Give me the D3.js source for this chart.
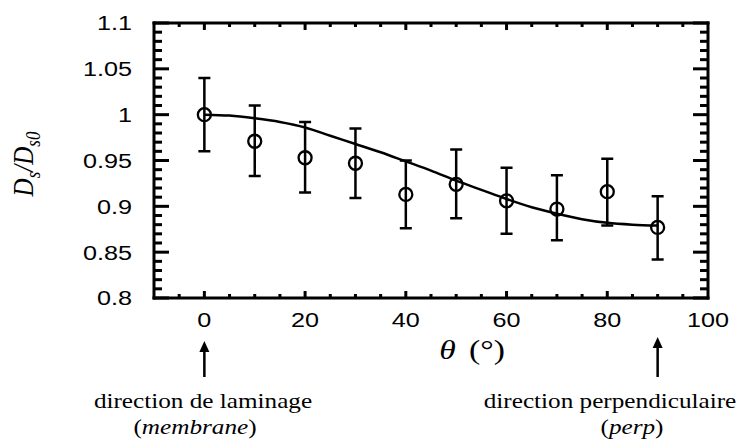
<!DOCTYPE html>
<html>
<head>
<meta charset="utf-8">
<script src="https://cdn.jsdelivr.net/npm/d3@7"></script>
<style>
  html, body { margin: 0; padding: 0; background: #fff; }
  svg { display: block; }
</style>
</head>
<body>
<svg id="chart" width="740" height="448" viewBox="0 0 740 448"></svg>
<script>
// ---- data ----
const angles = [0, 10, 20, 30, 40, 50, 60, 70, 80, 90];
const ratio  = [1.000, 0.971, 0.953, 0.947, 0.913, 0.924, 0.906, 0.897, 0.916, 0.877];
const errLow  = [0.960, 0.933, 0.915, 0.909, 0.876, 0.887, 0.870, 0.863, 0.879, 0.842];
const errHigh = [1.040, 1.010, 0.992, 0.985, 0.950, 0.962, 0.942, 0.934, 0.952, 0.911];
const fitAngles = [0, 5, 10, 15, 20, 25, 30, 35, 40, 45, 50, 55, 60, 65, 70, 75, 80, 85, 90];
const fitValues = [1.000, 0.999, 0.996, 0.992, 0.986, 0.977, 0.968, 0.959, 0.949, 0.939, 0.928, 0.918, 0.908, 0.899, 0.892, 0.886, 0.882, 0.880, 0.879];
const xTickLabels = [0, 20, 40, 60, 80, 100];
const yTickLabels = ["0.8", "0.85", "0.9", "0.95", "1", "1.05", "1.1"];

// ---- layout ----
const svg = d3.select("#chart");
const L = 154, R = 708, T = 23, B = 298;
const x = d3.scaleLinear().domain([-10, 100]).range([L, R]);
const y = d3.scaleLinear().domain([0.8, 1.1]).range([B, T]);
const SX = 1.2; // horizontal stretch of the text

const yMajor = yTickLabels.map(Number);
const yMinor = d3.range(80, 111, 1).map(v => v / 100).filter(v => !yMajor.some(m => Math.abs(m - v) < 1e-6));
const xMajor = xTickLabels.filter(v => v < 100);
const xMinor = d3.range(-5, 100, 5).filter(v => v % 20 !== 0);

// frame (as filled rectangles so it is thick)
const fw = 3;
const frame = svg.append("g").style("fill", "#000");
frame.append("rect").attr("x", L - fw / 2).attr("y", T - fw / 2).attr("width", R - L + fw).attr("height", fw);
frame.append("rect").attr("x", L - fw / 2).attr("y", B - fw / 2).attr("width", R - L + fw).attr("height", fw);
frame.append("rect").attr("x", L - fw / 2).attr("y", T - fw / 2).attr("width", fw).attr("height", B - T + fw);
frame.append("rect").attr("x", R - fw / 2).attr("y", T - fw / 2).attr("width", fw).attr("height", B - T + fw);

// inward ticks as filled rectangles
const tk = svg.append("g").style("fill", "#000");
function hTicks(vals, len) {
  vals.forEach(v => {
    const yy = y(v);
    tk.append("rect").attr("x", L).attr("y", yy - 1.5).attr("width", len).attr("height", 3);
    tk.append("rect").attr("x", R - len).attr("y", yy - 1.5).attr("width", len).attr("height", 3);
  });
}
function vTicks(vals, len) {
  vals.forEach(v => {
    const xx = x(v);
    tk.append("rect").attr("x", xx - 1.5).attr("y", B - len).attr("width", 3).attr("height", len);
    tk.append("rect").attr("x", xx - 1.5).attr("y", T).attr("width", 3).attr("height", len);
  });
}
hTicks(yMajor, 15);
hTicks(yMinor, 8);
vTicks(xMajor, 7);
vTicks(xMinor, 4);

// tick labels
const sans = "'Liberation Sans', Arial, sans-serif";
const serif = "'Liberation Serif', 'Times New Roman', serif";
svg.append("g").selectAll("text").data(yTickLabels).join("text")
  .attr("transform", d => `translate(132,${y(+d)}) scale(${SX},1)`)
  .attr("text-anchor", "end").attr("dy", "0.35em")
  .style("font-family", sans).style("font-size", "21px").text(d => d);
svg.append("g").selectAll("text").data(xTickLabels).join("text")
  .attr("transform", d => `translate(${x(d)},327) scale(${SX},1)`)
  .attr("text-anchor", "middle")
  .style("font-family", sans).style("font-size", "21px").text(d => d);

// fit curve
const line = d3.line().x((d, i) => x(fitAngles[i])).y(d => y(d)).curve(d3.curveMonotoneX);
svg.append("path").datum(fitValues).attr("d", line)
  .style("fill", "none").style("stroke", "#000").style("stroke-width", "2.5px");

// error bars
const ep = d3.path();
angles.forEach((a, i) => {
  const xx = x(a), lo = y(errLow[i]), hi = y(errHigh[i]);
  ep.moveTo(xx, lo); ep.lineTo(xx, hi);
  ep.moveTo(xx - 6, lo); ep.lineTo(xx + 6, lo);
  ep.moveTo(xx - 6, hi); ep.lineTo(xx + 6, hi);
});
svg.append("path").attr("d", ep.toString())
  .style("fill", "none").style("stroke", "#000").style("stroke-width", "2.5px");

// points
svg.append("g").selectAll("circle").data(angles).join("circle")
  .attr("cx", d => x(d)).attr("cy", (d, i) => y(ratio[i])).attr("r", 6.5)
  .style("fill", "none").style("stroke", "#000").style("stroke-width", "2.3px");

// axis titles
const xt = svg.append("text").attr("transform", `translate(472,359) scale(${SX},1)`)
  .attr("text-anchor", "middle").style("font-family", serif).style("font-size", "28px");
xt.append("tspan").style("font-style", "italic").text("θ");
xt.append("tspan").attr("dx", "0.4em").text("(°)");

const yt = svg.append("text").attr("transform", `translate(33,164) rotate(-90) scale(1,${SX})`)
  .attr("text-anchor", "middle").style("font-family", serif).style("font-size", "25px").style("font-style", "italic");
yt.append("tspan").text("D");
yt.append("tspan").style("font-size", "17px").attr("dy", 6).text("s");
yt.append("tspan").attr("dy", -6).text("/");
yt.append("tspan").text("D");
yt.append("tspan").style("font-size", "17px").attr("dy", 6).text("s0");

// arrows & annotations
const annot = [
  { a: 0, top: 341, line1: "direction de laminage", line2: "membrane", c1: 203, c2: 195 },
  { a: 90, top: 337, line1: "direction perpendiculaire", line2: "perp", c1: 610, c2: 632 }
];
annot.forEach(n => {
  const ax = x(n.a);
  svg.append("rect").attr("x", ax - 1.25).attr("y", n.top + 6).attr("width", 2.5).attr("height", 377 - n.top - 6)
    .style("fill", "#000");
  svg.append("path").attr("d", `M${ax},${n.top} L${ax - 5},${n.top + 11} L${ax + 5},${n.top + 11} Z`)
    .style("fill", "#000");
  svg.append("text").attr("transform", `translate(${n.c1},408) scale(${SX},1)`)
    .attr("text-anchor", "middle").style("font-family", serif).style("font-size", "21px").text(n.line1);
  const t2 = svg.append("text").attr("transform", `translate(${n.c2},434) scale(${SX},1)`)
    .attr("text-anchor", "middle").style("font-family", serif).style("font-size", "21px");
  t2.append("tspan").text("(");
  t2.append("tspan").style("font-style", "italic").text(n.line2);
  t2.append("tspan").text(")");
});
</script>
</body>
</html>
